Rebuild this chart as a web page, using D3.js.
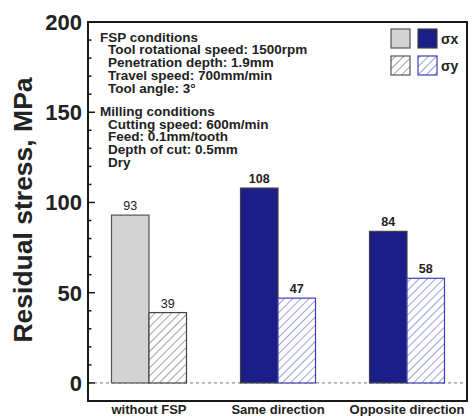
<!DOCTYPE html>
<html>
<head>
<meta charset="utf-8">
<script src="https://cdn.jsdelivr.net/npm/d3@7"></script>
<style>
  html, body { margin: 0; padding: 0; background: #fff; }
  svg { display: block; font-family: "Liberation Sans", Arial, sans-serif; }
</style>
</head>
<body>
<svg id="chart" width="473" height="416"></svg>
<script>
// Residual stress per machining condition
const categories = ["without FSP", "Same direction", "Opposite direction"];
const sigmaX = [93, 108, 84];
const sigmaY = [39, 47, 58];
const yTicks = [0, 50, 100, 150, 200];
const yMinorTicks = d3.range(-10, 201, 10);
const notes = [
  { text: "FSP conditions", indent: 0 },
  { text: "Tool rotational speed: 1500rpm", indent: 1 },
  { text: "Penetration depth: 1.9mm", indent: 1 },
  { text: "Travel speed: 700mm/min", indent: 1 },
  { text: "Tool angle: 3°", indent: 1 },
  { text: "Milling conditions", indent: 0, gap: true },
  { text: "Cutting speed: 600m/min", indent: 1 },
  { text: "Feed: 0.1mm/tooth", indent: 1 },
  { text: "Depth of cut: 0.5mm", indent: 1 },
  { text: "Dry", indent: 1 }
];

const svg = d3.select("#chart");
const frame = { left: 88, right: 467, top: 22, bottom: 401 };

const y = d3.scaleLinear().domain([-10, 200]).range([frame.bottom, frame.top]);
const x = d3.scaleBand().domain(categories).range([84.5, 471.5]).padding(0);
const sub = d3.scaleBand().domain(["x", "y"]).range([-37.5, 37.5]);

const grayFill = "#d3d3d3";
const navy = "#1b1d88";
const hatchBlue = "#3a40b4";

// hatch patterns
const defs = svg.append("defs");
function hatch(id, color) {
  const p = defs.append("pattern")
    .attr("id", id).attr("patternUnits", "userSpaceOnUse")
    .attr("width", 5.8).attr("height", 5.8)
    .attr("patternTransform", "rotate(45)");
  p.append("rect").attr("width", 5.8).attr("height", 5.8).attr("fill", "#fff");
  p.append("line").attr("x1", 0).attr("y1", 0).attr("x2", 0).attr("y2", 5.8)
    .attr("stroke", color).attr("stroke-width", 1);
}
hatch("hatchGray", "#444");
hatch("hatchBlue", hatchBlue);

// zero reference line
svg.append("line")
  .attr("x1", frame.left).attr("x2", frame.right)
  .attr("y1", y(0)).attr("y2", y(0))
  .attr("stroke", "#777").attr("stroke-width", 1)
  .attr("stroke-dasharray", "3,3");

// bars
const styleX = i => i === 0
  ? { fill: grayFill, stroke: "#555" }
  : { fill: navy, stroke: "#444" };
const styleY = i => i === 0
  ? { fill: "url(#hatchGray)", stroke: "#444" }
  : { fill: "url(#hatchBlue)", stroke: hatchBlue };

categories.forEach((c, i) => {
  const cx = x(c) + x.bandwidth() / 2;
  [["x", sigmaX[i], styleX(i)], ["y", sigmaY[i], styleY(i)]].forEach(([k, v, s]) => {
    const bx = cx + sub(k);
    svg.append("rect")
      .attr("x", bx).attr("y", y(v))
      .attr("width", sub.bandwidth()).attr("height", y(0) - y(v))
      .attr("fill", s.fill).attr("stroke", s.stroke).attr("stroke-width", 1.2);
    svg.append("text")
      .attr("x", bx + sub.bandwidth() / 2).attr("y", y(v) - 5)
      .attr("text-anchor", "middle")
      .attr("font-size", 12.5)
      .attr("font-weight", i === 0 ? "normal" : "bold")
      .attr("fill", "#222")
      .text(v);
  });
});

// frame
svg.append("rect")
  .attr("x", frame.left).attr("y", frame.top)
  .attr("width", frame.right - frame.left).attr("height", frame.bottom - frame.top)
  .attr("fill", "none").attr("stroke", "#1a1a1a").attr("stroke-width", 2);

// y axis ticks (inward)
svg.selectAll("line.minor").data(yMinorTicks.filter(v => v % 50 !== 0)).join("line")
  .attr("class", "minor")
  .attr("x1", frame.left).attr("x2", frame.left + 3.5)
  .attr("y1", d => y(d)).attr("y2", d => y(d))
  .attr("stroke", "#1a1a1a").attr("stroke-width", 1.5);
svg.selectAll("line.major").data(yTicks).join("line")
  .attr("class", "major")
  .attr("x1", frame.left).attr("x2", frame.left + 7)
  .attr("y1", d => y(d)).attr("y2", d => y(d))
  .attr("stroke", "#1a1a1a").attr("stroke-width", 1.5);
svg.selectAll("text.ytick").data(yTicks).join("text")
  .attr("class", "ytick")
  .attr("x", frame.left - 6).attr("y", d => y(d))
  .attr("dy", "0.36em")
  .attr("text-anchor", "end")
  .attr("font-size", 22).attr("font-weight", "bold").attr("fill", "#222")
  .text(d => d);

// y axis title
svg.append("text")
  .attr("transform", "translate(32, 210) rotate(-90)")
  .attr("text-anchor", "middle")
  .attr("font-size", 26.5).attr("font-weight", "bold").attr("fill", "#222")
  .text("Residual stress, MPa");

// category labels
svg.selectAll("text.xcat").data(categories).join("text")
  .attr("class", "xcat")
  .attr("x", d => x(d) + x.bandwidth() / 2)
  .attr("y", 414)
  .attr("text-anchor", "middle")
  .attr("font-size", 13).attr("font-weight", "bold").attr("fill", "#222")
  .text(d => d);

// process conditions note
let ny = 41.5;
notes.forEach((n, i) => {
  if (i > 0) ny += n.gap ? 22.5 : 12.9;
  svg.append("text")
    .attr("x", n.indent ? 108 : 100).attr("y", ny)
    .attr("font-size", 13.5).attr("font-weight", "bold").attr("fill", "#222")
    .text(n.text);
});

// legend
const legend = svg.append("g");
const lg = [
  { x: 391, y: 29, fill: grayFill, stroke: "#555" },
  { x: 418, y: 29, fill: navy, stroke: "#444" },
  { x: 391, y: 56, fill: "url(#hatchGray)", stroke: "#555" },
  { x: 418, y: 56, fill: "url(#hatchBlue)", stroke: hatchBlue }
];
legend.selectAll("rect").data(lg).join("rect")
  .attr("x", d => d.x).attr("y", d => d.y)
  .attr("width", 19).attr("height", 19)
  .attr("fill", d => d.fill).attr("stroke", d => d.stroke).attr("stroke-width", 1.2);
legend.selectAll("text").data(["σx", "σy"]).join("text")
  .attr("x", 441).attr("y", (d, i) => 39 + i * 27)
  .attr("dy", "0.36em")
  .attr("font-size", 14).attr("font-weight", "bold").attr("fill", "#222")
  .text(d => d);
</script>
</body>
</html>
